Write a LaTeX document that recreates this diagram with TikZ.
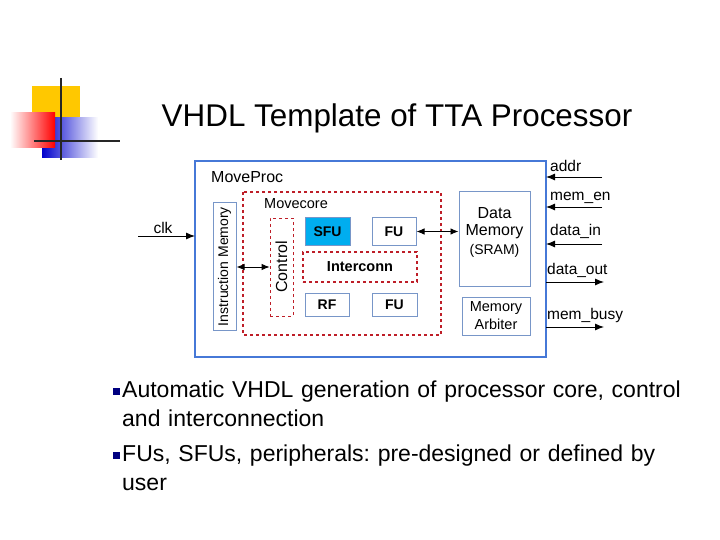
\documentclass[tikz,border=0pt]{standalone}
\usepackage{fontspec}
\setmainfont{Liberation Sans}
\usetikzlibrary{arrows.meta}
\definecolor{bluebox}{RGB}{70,120,215}
\definecolor{lightblue}{RGB}{120,150,200}
\definecolor{darkred}{RGB}{190,30,40}
\definecolor{gold}{RGB}{255,200,0}
\frenchspacing
\begin{document}
\begin{tikzpicture}[x=1pt,y=-1pt,
  blk/.style={draw=lightblue,line width=1pt},
  lbl/.style={font=\fontsize{15.5}{17}\selectfont,inner sep=0pt},
  blab/.style={font=\fontsize{14}{16}\selectfont\bfseries,inner sep=0pt},
  arr/.style={-{Latex[length=9pt,width=7pt]},line width=0.9pt},
  darr/.style={{Latex[length=8pt,width=6.5pt]}-{Latex[length=8pt,width=6.5pt]},line width=0.9pt},
  btext/.style={font=\fontsize{23}{29}\selectfont,anchor=north west,inner sep=0pt,align=left,text width=566pt}]
\useasboundingbox (0,0) rectangle (720,540);
% logo
\fill[gold] (32,86) rectangle (80,118);
\shade[left color=blue!80!black,right color=white] (42,118) rectangle (98,158);
\shade[left color=white,right color=red] (10,113) rectangle (55,148);
\draw[line width=2.2pt,black!85] (61,78) -- (61,160);
\draw[line width=2.2pt,black!85] (34,141) -- (120,141);
% title
\node[font=\fontsize{31.4}{34}\selectfont] (title) at (397,118) {VHDL Template of TTA Processor};
% outer
\draw[draw=bluebox,line width=2pt] (195,161) rectangle (546,357);
\node[lbl,anchor=west,font=\fontsize{16}{18}\selectfont] (mp) at (211,177) {MoveProc};
\draw[darkred,dashed,line width=1.6pt] (243,192) rectangle (441,335);
\node[lbl,anchor=west,font=\fontsize{14.5}{16}\selectfont] (mc) at (264,204) {Movecore};
\node[blk,minimum width=23pt,minimum height=127pt,inner sep=0pt] (im) at (224.5,266.5) {};
\node[lbl,rotate=90,font=\fontsize{14}{16}\selectfont] at (im) {Instruction Memory};
\node[draw=darkred,dashed,line width=0.8pt,minimum width=23pt,minimum height=98pt,inner sep=0pt] (ctl) at (281.5,267) {};
\node[lbl,rotate=90,font=\fontsize{16}{17}\selectfont] at (ctl) {Control};
\node[blk,fill=cyan,minimum width=45pt,minimum height=27pt,inner sep=0pt] (sfu) at (327.5,231.5) {};
\node[blab] at (sfu) {SFU};
\node[blk,minimum width=44pt,minimum height=27pt,inner sep=0pt] (fu1) at (394,231.5) {};
\node[blab] at (fu1) {FU};
\node[draw=darkred,dashed,line width=1.2pt,minimum width=114pt,minimum height=30pt,inner sep=0pt] (ic) at (360,267) {};
\node[lbl,font=\fontsize{14.5}{16}\selectfont\bfseries] at (ic) {Interconn};
\node[blk,minimum width=44pt,minimum height=23pt,inner sep=0pt] (rf) at (327,304.5) {};
\node[blab] at (rf) {RF};
\node[blk,minimum width=45pt,minimum height=23pt,inner sep=0pt] (fu2) at (394.5,304.5) {};
\node[blab] at (fu2) {FU};
\node[blk,minimum width=71pt,minimum height=94pt,inner sep=0pt] (dm) at (494.5,239) {};
\node[lbl,font=\fontsize{16}{17}\selectfont] at (494.5,213) {Data};
\node[lbl,font=\fontsize{16}{17}\selectfont] at (494.5,232) {Memory};
\node[lbl,font=\fontsize{14}{15}\selectfont] at (494.5,251) {(SRAM)};
\node[blk,minimum width=68pt,minimum height=38pt,inner sep=0pt] (ma) at (496,316) {};
\node[lbl,align=center,font=\fontsize{14.5}{18}\selectfont] at (ma) {Memory\\Arbiter};
% arrows
\draw[darr] (fu1.east) -- (dm.west|-fu1.east);
\draw[darr] (im.east|-0,267) -- (ctl.west|-0,267);
\coordinate (clk0) at (138,236);
\draw[arr] (clk0) -- (195,236);
\node[lbl] at (163,228) {clk};
\foreach \y/\ly/\t in {177/166/addr,207/198/mem\_en,244/231/data\_in}{
  \coordinate (s\y) at (602,\y);
  \draw[arr] (s\y) -- (546,\y);
  \node[lbl,anchor=west] at (550,\ly) {\t};
}
\foreach \y/\ly/\t in {282/270/data\_out,327/315/mem\_busy}{
  \coordinate (s\y) at (604,\y);
  \draw[arr] (546,\y) -- (s\y);
  \node[lbl,anchor=west] at (547,\ly) {\t};
}
% bullets
\fill[blue!50!black] (113,388) rectangle (119.5,394.5);
\fill[blue!50!black] (113,452) rectangle (119.5,458.5);
\node[btext] (b1) at (122,381) {\raggedright Automatic VHDL generation of processor core, control and interconnection};
\node[btext] (b2) at (122,445) {\raggedright FUs, SFUs, peripherals: pre-designed or defined by user};
\end{tikzpicture}
\end{document}
